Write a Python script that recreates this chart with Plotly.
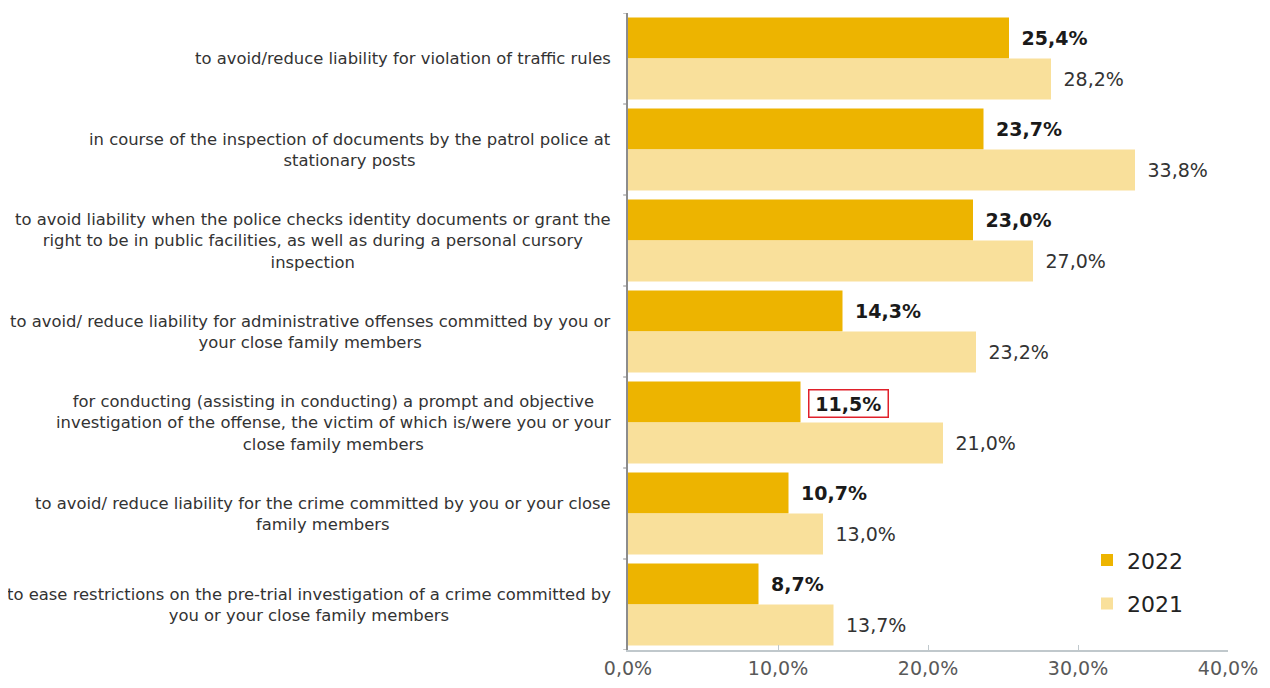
import plotly.graph_objects as go

categories = [
    "to avoid/reduce liability for violation of traffic rules",
    "in course of the inspection of documents by the patrol police at<br>stationary posts",
    "to avoid liability when the police checks identity documents or grant the<br>right to be in public facilities, as well as during a personal cursory<br>inspection",
    "to avoid/ reduce liability for administrative offenses committed by you or<br>your close family members",
    "for conducting (assisting in conducting) a prompt and objective<br>investigation of the offense, the victim of which is/were you or your<br>close family members",
    "to avoid/ reduce liability for the crime committed by you or your close<br>family members",
    "to ease restrictions on the pre-trial investigation of a crime committed by<br>you or your close family members",
]
values_2022 = [25.4, 23.7, 23.0, 14.3, 11.5, 10.7, 8.7]
values_2021 = [28.2, 33.8, 27.0, 23.2, 21.0, 13.0, 13.7]
highlight_index = 4
x_ticks = [0, 10, 20, 30, 40]


def pct(v):
    return f"{v:.1f}%".replace(".", ",")


FONT = "DejaVu Sans"
C2022 = "#EDB400"
C2021 = "#F9E09B"
GAP = "\u2002"

ids = list(range(len(categories)))

text_2022 = [GAP + f"<b>{pct(v)}</b>" if i != highlight_index else "" for i, v in enumerate(values_2022)]
text_2021 = [GAP + pct(v) for v in values_2021]

fig = go.Figure()
fig.add_trace(go.Bar(
    name="2022", y=ids, x=values_2022, orientation="h", legendgroup="a",
    marker=dict(color=C2022, line=dict(width=0)),
    text=text_2022, textposition="outside", cliponaxis=False,
    textfont=dict(family=FONT, size=19, color="#1a1a1a"),
))
fig.add_trace(go.Bar(
    name="2021", y=ids, x=values_2021, orientation="h", legendgroup="b",
    marker=dict(color=C2021, line=dict(width=0)),
    text=text_2021, textposition="outside", cliponaxis=False,
    textfont=dict(family=FONT, size=19, color="#333333"),
))

# highlighted label with red box
hv = values_2022[highlight_index]
fig.add_annotation(
    x=hv, y=highlight_index, xref="x", yref="y",
    text=f"\u2009<b>{pct(hv)}</b>\u2009",
    showarrow=False, xanchor="left", yanchor="middle",
    xshift=7, yshift=19,
    font=dict(family=FONT, size=19, color="#1a1a1a"),
    bordercolor="#E0202A", borderwidth=1.5, borderpad=2, bgcolor="white",
)

# category labels, centred lines
for i, c in enumerate(categories):
    fig.add_annotation(
        x=0, y=i, xref="paper", yref="y", text=c, showarrow=False,
        xanchor="right", yanchor="middle", align="center", xshift=-15,
        font=dict(family=FONT, size=16.4, color="#333333"),
    )

fig.update_layout(
    width=1270, height=688,
    margin=dict(l=620, r=50, t=5, b=46),
    paper_bgcolor="white", plot_bgcolor="white",
    barmode="group", bargap=0.1, bargroupgap=0,
    separators=",.",
    font=dict(family=FONT, color="#333333"),
    legend=dict(
        x=0.765, y=0.174, xanchor="left", yanchor="top",
        font=dict(family=FONT, size=22, color="#222222"),
        bgcolor="rgba(0,0,0,0)", itemsizing="constant",
        traceorder="grouped", tracegroupgap=12,
    ),
    showlegend=True,
)
fig.update_yaxes(
    range=[len(categories) - 0.5, -0.5], tickvals=[], showticklabels=False,
    showline=True, linecolor="#8c8c8c", linewidth=1.5,
    showgrid=False, zeroline=False,
)
fig.update_xaxes(
    range=[0, 40], tickvals=x_ticks, ticktext=[pct(v) for v in x_ticks],
    showline=True, linecolor="#c0c8cc", linewidth=1.5,
    ticks="inside", ticklen=5, tickcolor="#c0c8cc",
    showgrid=False, zeroline=False,
    tickfont=dict(family=FONT, size=19, color="#595959"),
)
# boundary ticks on y axis
for b in [i - 0.5 for i in range(len(categories) + 1)]:
    fig.add_shape(type="line", xref="paper", yref="y", x0=-0.008, x1=0, y0=b, y1=b,
                  line=dict(color="#8c8c8c", width=1))

fig.write_html("out.html")
